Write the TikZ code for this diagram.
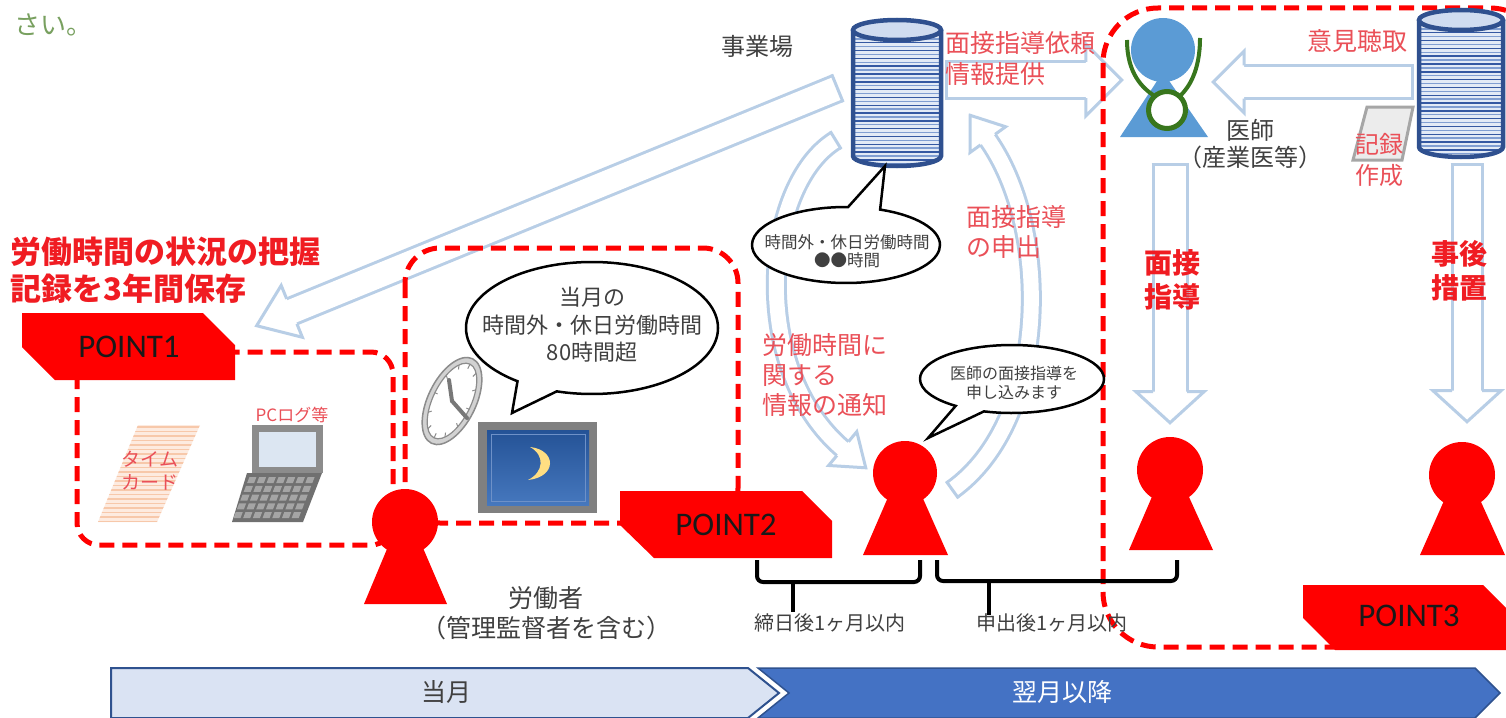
\documentclass[tikz,border=0pt]{standalone}
\usepackage{fontspec}
\setmainfont{Noto Sans CJK JP}
\newfontfamily\pointfont{Carlito}
\usetikzlibrary{shapes.callouts,decorations.markings}

\definecolor{lb}{RGB}{184,206,230}
\definecolor{ptred}{RGB}{255,0,0}
\definecolor{txtred}{RGB}{234,80,88}
\definecolor{boldred}{RGB}{240,28,34}
\definecolor{ink}{RGB}{64,64,64}
\definecolor{leaf}{RGB}{120,160,95}
\definecolor{cylb}{RGB}{47,80,143}
\definecolor{cylfill}{RGB}{226,234,246}
\definecolor{cyltop}{RGB}{208,220,240}
\definecolor{stripeA}{RGB}{52,88,162}
\definecolor{stripeB}{RGB}{128,158,210}
\definecolor{docblue}{RGB}{91,155,213}
\definecolor{docgreen}{RGB}{56,118,29}
\definecolor{chevlight}{RGB}{218,227,243}
\definecolor{chevdark}{RGB}{68,114,196}
\definecolor{chevline}{RGB}{47,82,143}
\definecolor{pcgray}{RGB}{140,140,140}
\definecolor{keybase}{RGB}{112,112,112}
\definecolor{keygray}{RGB}{165,165,165}
\definecolor{pcscreen}{RGB}{220,230,242}
\definecolor{cardline}{RGB}{247,200,170}
\definecolor{cardfill}{RGB}{253,235,224}
\definecolor{clockrim}{RGB}{210,210,210}
\definecolor{clockedge}{RGB}{140,140,140}
\definecolor{hand}{RGB}{120,120,120}
\definecolor{monframe}{RGB}{128,128,128}
\definecolor{scrtop}{RGB}{36,82,150}
\definecolor{scrbot}{RGB}{70,120,190}
\definecolor{scredge}{RGB}{110,145,200}
\definecolor{moon}{RGB}{255,222,130}
\definecolor{paper}{RGB}{236,236,236}
\definecolor{paperedge}{RGB}{166,166,166}

\newcommand\fs[2]{\fontsize{#1}{#2}\selectfont}

% striped database drum: centre x, top y, bottom y, x radius
\newcommand\drumstack[4]{%
  \begin{scope}
    \clip (#1-#4,#2) -- (#1-#4,#3) arc[start angle=180,end angle=0,x radius=#4,y radius=10] -- (#1+#4,#2) -- cycle;
    \fill[cylfill] (#1-#4-4,#2-12) rectangle (#1+#4+4,#3+12);
    \foreach \k in {0,2,...,32}{\draw[stripeA, line width=1.4pt] (#1-#4-4,{#2+5+\k*3.9}) -- (#1+#4+4,{#2+5+\k*3.9});}
    \foreach \k in {1,3,...,33}{\draw[stripeB, line width=1.4pt] (#1-#4-4,{#2+5+\k*3.9}) -- (#1+#4+4,{#2+5+\k*3.9});}
  \end{scope}
  \draw[cylb, line width=4.5pt] (#1-#4,#2) -- (#1-#4,#3) arc[start angle=180,end angle=0,x radius=#4,y radius=10] -- (#1+#4,#2);
  \draw[cylb, line width=4.5pt, fill=cyltop] (#1,#2) ellipse [x radius=#4, y radius=10];
}

\tikzset{
  hollow/.style n args={3}{
    draw=lb, line width=3pt, double=white, double distance=#1,
    shorten >={#3-2pt},
    postaction={decorate, decoration={markings,
      mark=at position 0.001 with {\draw[lb, line width=3pt, shorten >=0pt, shorten <=0pt] (0pt,{-#1/2-3pt}) -- (0pt,{#1/2+3pt});},
      mark=at position 0.999 with {%
        \fill[white, shorten >=0pt, shorten <=0pt] (0pt,0pt) -- (-#3,#2) -- (-#3,-#2) -- cycle;
        \draw[lb, line width=3pt, line join=miter, shorten >=0pt, shorten <=0pt] (-#3,{#1/2+1.5pt}) -- (-#3,#2) -- (0pt,0pt) -- (-#3,-#2) -- (-#3,{-#1/2-1.5pt});}
    }}
  },
  zone/.style={draw=ptred, line width=5pt, dash pattern=on 15pt off 8pt},
  ptlabel/.style={inner sep=0pt, text=black!90, font=\pointfont\fs{33}{36}},
  lbl/.style={inner sep=0pt, text=ink},
  redlbl/.style={inner sep=0pt, text=txtred},
  boldlbl/.style={inner sep=0pt, text=boldred, font=\bfseries\fs{28}{34}, align=center},
  head/.style={circle, fill=ptred, inner sep=0pt, minimum size=#1},
  bubble/.style={ellipse callout, draw=black, line width=2.5pt, fill=white, inner sep=0pt, callout pointer arc=20},
  bracket/.style={draw=black, line width=4pt, rounded corners=6pt},
}

\begin{document}
\begin{tikzpicture}[x=1pt,y=-1pt]
\useasboundingbox (0,0) rectangle (1506,717);
\fill[white] (0,0) rectangle (1506,717);

% leftover of the previous sentence
\node[anchor=west, inner sep=0pt, text=leaf, font=\fs{26}{30}] (tailtext) at (14,25) {さい。};

% end points of the block arrows
\coordinate (a1s) at (838,88);   \coordinate (a1e) at (256,326);
\coordinate (a2s) at (946,80);   \coordinate (a2e) at (1122,80);
\coordinate (a3s) at (1413,82);  \coordinate (a3e) at (1213,82);
\coordinate (a4s) at (1170,164); \coordinate (a4e) at (1170,423);
\coordinate (a5s) at (1467,164); \coordinate (a5e) at (1467,422);
\coordinate (c1s) at (836,140);  \coordinate (c1e) at (866,468);
\coordinate (c2s) at (952,490);  \coordinate (c2e) at (970,115);

% hollow block arrows
\draw[hollow={24pt}{28pt}{38pt}] (a1s) -- (a1e);
\draw[hollow={33pt}{36pt}{36pt}] (a2s) -- (a2e);
\draw[hollow={30pt}{31pt}{31pt}] (a3s) -- (a3e);
\draw[hollow={31pt}{34pt}{31pt}] (a4s) -- (a4e);
\draw[hollow={27pt}{34pt}{31pt}] (a5s) -- (a5e);
\draw[hollow={15pt}{22pt}{30pt}] (c1s) .. controls (762,185) and (748,370) .. (c1e);
\draw[hollow={15pt}{22pt}{30pt}] (c2s) .. controls (1050,420) and (1052,228) .. (c2e);

% dashed red zones
\draw[zone, rounded corners=22pt] (77,352) rectangle (393,545);
\draw[zone, rounded corners=35pt] (405,248) rectangle (738,523);
\draw[zone, rounded corners=55pt] (1103,8) rectangle (1545,647);

% POINT tags
\fill[ptred] (22,313) -- (203,313) -- (235,345) -- (235,380) -- (55,380) -- (22,347) -- cycle;
\node[ptlabel] (p1) at (129,347) {POINT1};
\fill[ptred] (620,491) -- (802,491) -- (832,521) -- (832,558) -- (654,558) -- (620,525) -- cycle;
\node[ptlabel] (p2) at (726,525) {POINT2};
\fill[ptred] (1303,585) -- (1483,585) -- (1515,617) -- (1515,650) -- (1335,650) -- (1303,618) -- cycle;
\node[ptlabel] (p3) at (1409,616) {POINT3};

% databases
\drumstack{897}{30}{156}{44}
\coordinate (site) at (897,93);
\drumstack{1461}{20}{147}{42}
\coordinate (records) at (1461,84);

% record sheet
\filldraw[fill=paper, draw=paperedge, line width=3pt] (1367,107) -- (1413,107) -- (1402,160) -- (1353,160) -- cycle;

% doctor
\fill[docblue] (1163,72) -- (1208,137) -- (1120,137) -- cycle;
\node[circle, fill=docblue, inner sep=0pt, minimum size=64pt] (doc) at (1163,50) {};
\draw[docgreen, line width=4pt] (1127,40) .. controls (1127,74) and (1143,88) .. (1153,95);
\draw[docgreen, line width=4pt] (1200,38) .. controls (1200,72) and (1188,88) .. (1181,95);
\node[circle, draw=docgreen, fill=white, line width=5pt, inner sep=0pt, minimum size=37pt] (steth) at (1167,110) {};

% workers
\fill[ptred] (405,506) -- (447,604) -- (364,604) -- cycle;
\node[head=66pt] (w1) at (405,522) {};
\fill[ptred] (905,458) -- (948,555) -- (863,555) -- cycle;
\node[head=64pt] (w2) at (905,473) {};
\fill[ptred] (1170,455) -- (1213,550) -- (1129,550) -- cycle;
\node[head=66pt] (w3) at (1170,470) {};
\fill[ptred] (1462,460) -- (1505,555) -- (1420,555) -- cycle;
\node[head=66pt] (w4) at (1462,475) {};

% time card
\begin{scope}
  \clip (138,425) -- (200,425) -- (157,522) -- (98,522) -- cycle;
  \fill[cardfill] (90,420) rectangle (205,525);
  \foreach \k in {0,...,21}{\draw[cardline, line width=1.8pt] (90,{427+\k*4.5}) -- (205,{427+\k*4.5});}
\end{scope}

% laptop
\fill[pcgray] (252,425) rectangle (323,473);
\fill[pcscreen] (259,432) rectangle (316,467);
\fill[keybase] (247,473) -- (322,473) -- (303,522) -- (232,522) -- cycle;
\foreach \r in {0,...,4}{\foreach \c in {0,...,6}{%
  \pgfmathsetmacro\ky{477+\r*8.8}
  \pgfmathsetmacro\kx{251+\c*9.7-(\ky-473)*0.39}
  \fill[keygray] (\kx,\ky) -- ++(7,0) -- ++(-2.3,6) -- ++(-7,0) -- cycle;}}

% wall clock
\begin{scope}[shift={(452,401)}, rotate=-26]
  \filldraw[fill=clockrim, draw=clockedge, line width=1.5pt] (0,0) ellipse [x radius=24, y radius=47];
  \filldraw[fill=white, draw=clockedge, line width=1.2pt] (0,0) ellipse [x radius=19, y radius=41];
  \foreach \a in {0,30,...,330}{\draw[clockedge, line width=1pt] ({16*cos(\a)},{36*sin(\a)}) -- ({19*cos(\a)},{41*sin(\a)});}
\end{scope}
\draw[hand, line width=4pt, line cap=round] (452,401) -- (449,380);
\draw[hand, line width=4pt, line cap=round] (452,401) -- (467,418);

% monitor with night sky
\fill[monframe] (478,422) rectangle (597,513);
\shade[top color=scrtop, bottom color=scrbot] (487,430) rectangle (589,505);
\draw[scredge, line width=1pt] (491,434) rectangle (585,501);
\fill[moon] (530,447) .. controls (557,450) and (557,477) .. (528,480) .. controls (544,472) and (545,455) .. (530,447) -- cycle;

% speech bubbles
\node[bubble, minimum width=252pt, minimum height=132pt, callout absolute pointer={(512,413)}] (b1) at (592,328) {};
\node[lbl, align=center, font=\fs{22}{27.5}] (b1t) at (592,325) {当月の\\時間外・休日労働時間\\80時間超};
\node[bubble, minimum width=188pt, minimum height=76pt, callout absolute pointer={(885,166)}] (b2) at (846,245) {};
\node[lbl, align=center, font=\fs{16.5}{18.5}] (b2t) at (847,251) {時間外・休日労働時間\\●●時間};
\node[bubble, minimum width=184pt, minimum height=68pt, callout absolute pointer={(928,438)}] (b3) at (1012,379) {};
\node[lbl, align=center, font=\fs{16}{19}] (b3t) at (1014,383) {医師の面接指導を\\申し込みます};

% labels
\node[lbl, font=\fs{24}{28}] (sitelbl) at (757,46) {事業場};
\node[redlbl, anchor=west, align=left, font=\fs{25}{31}] (req) at (945,58) {面接指導依頼\\情報提供};
\node[redlbl, font=\fs{25}{30}] (hear) at (1357,41) {意見聴取};
\node[redlbl, anchor=west, align=left, font=\fs{24}{31}] (rec) at (1355,160) {記録\\作成};
\node[lbl, align=center, font=\fs{24}{27}] (doclbl) at (1250,144) {医師\\（産業医等）};
\node[redlbl, anchor=west, align=left, font=\fs{25}{30}] (apply) at (966,232) {面接指導\\の申出};
\node[redlbl, anchor=west, align=left, font=\fs{25}{30}] (notice) at (762,375) {労働時間に\\関する\\情報の通知};
\node[boldlbl] (guide) at (1172,280) {面接\\指導};
\node[boldlbl] (after) at (1459,271) {事後\\措置};
\node[inner sep=0pt, anchor=west, align=left, text=boldred, font=\bfseries\fs{31}{37}] (keep) at (10,270) {労働時間の状況の把握\\記録を3年間保存};
\node[redlbl, font=\fs{17}{20}] (pclog) at (292,415) {PCログ等};
\node[redlbl, align=center, font=\fs{19}{23}] (card) at (150,471) {タイム\\カード};
\node[lbl, align=center, font=\fs{25}{30}] (worker) at (546,613) {労働者\\（管理監督者を含む）};

% period brackets
\draw[bracket] (757,560) -- (757,582) -- (920,582) -- (920,560);
\draw[black, line width=4pt] (793,582) -- (793,612);
\draw[bracket] (937,560) -- (937,581) -- (1177,581) -- (1177,560);
\draw[black, line width=4pt] (989,581) -- (989,615);
\node[lbl, font=\fs{20}{24}] (lim1) at (830,623) {締日後1ヶ月以内};
\node[lbl, font=\fs{20}{24}] (lim2) at (1052,623) {申出後1ヶ月以内};

% timeline
\filldraw[fill=chevlight, draw=chevline, line width=2pt] (111,668) -- (748,668) -- (779,693) -- (748,718) -- (111,718) -- cycle;
\filldraw[fill=chevdark, draw=chevline, line width=1.5pt] (758,668) -- (1475,668) -- (1500,693) -- (1475,718) -- (758,718) -- (789,693) -- cycle;
\node[lbl, font=\fs{25}{30}] (thismonth) at (446,692) {当月};
\node[inner sep=0pt, text=white, font=\fs{25}{30}] (nextmonth) at (1062,692) {翌月以降};
\end{tikzpicture}
\end{document}
